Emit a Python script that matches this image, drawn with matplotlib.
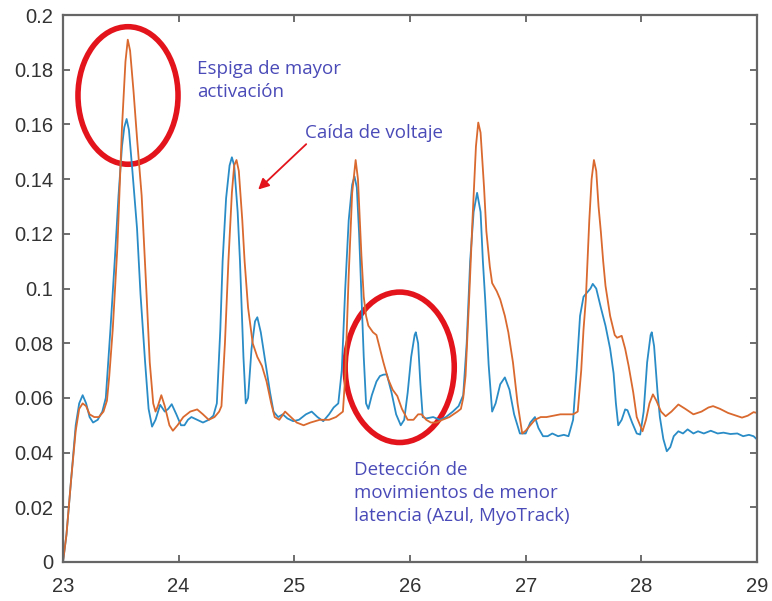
import matplotlib
matplotlib.use('Agg')
import matplotlib.pyplot as plt
from matplotlib.patches import Ellipse

# blue trace (MyoTrack)
blue_x = [23.00, 23.03, 23.07, 23.11, 23.14, 23.17, 23.20, 23.23, 23.26, 23.30,
          23.34, 23.37, 23.41, 23.45, 23.48, 23.51, 23.53, 23.55, 23.57, 23.60,
          23.64, 23.67, 23.71, 23.74, 23.77, 23.80, 23.84, 23.88, 23.91, 23.94,
          23.98, 24.02, 24.05, 24.08, 24.11, 24.16, 24.21, 24.26, 24.30, 24.33,
          24.36, 24.38, 24.41, 24.44, 24.46, 24.48, 24.51, 24.53, 24.56, 24.58,
          24.60, 24.63, 24.66, 24.68, 24.71, 24.75, 24.79, 24.82, 24.86, 24.90,
          24.94, 24.99, 25.04, 25.10, 25.15, 25.20, 25.25, 25.30, 25.34, 25.38,
          25.41, 25.44, 25.47, 25.50, 25.52, 25.54, 25.56, 25.58, 25.60, 25.62,
          25.64, 25.67, 25.71, 25.74, 25.77, 25.80, 25.84, 25.88, 25.92, 25.95,
          25.98, 26.01, 26.04, 26.05, 26.07, 26.09, 26.11, 26.14, 26.20, 26.26,
          26.31, 26.37, 26.42, 26.46, 26.49, 26.52, 26.55, 26.58, 26.61, 26.63,
          26.65, 26.68, 26.71, 26.74, 26.78, 26.82, 26.86, 26.90, 26.95, 27.00,
          27.04, 27.08, 27.11, 27.15, 27.19, 27.23, 27.28, 27.33, 27.37, 27.41,
          27.44, 27.47, 27.50, 27.53, 27.56, 27.58, 27.61, 27.65, 27.69, 27.73,
          27.76, 27.78, 27.80, 27.83, 27.86, 27.88, 27.92, 27.96, 27.99, 28.02,
          28.05, 28.08, 28.09, 28.11, 28.14, 28.16, 28.19, 28.22, 28.25, 28.28,
          28.32, 28.36, 28.40, 28.45, 28.49, 28.54, 28.60, 28.66, 28.71, 28.77,
          28.83, 28.88, 28.93, 28.97, 29.00]
blue_y = [0.000, 0.010, 0.030, 0.050, 0.058, 0.061, 0.058, 0.053, 0.051, 0.052,
          0.055, 0.060, 0.085, 0.112, 0.134, 0.152, 0.159, 0.162, 0.158, 0.143,
          0.122, 0.098, 0.073, 0.056, 0.0495, 0.052, 0.0575, 0.055, 0.056, 0.0577,
          0.054, 0.050, 0.050, 0.052, 0.053, 0.052, 0.051, 0.052, 0.0535, 0.058,
          0.085, 0.110, 0.133, 0.145, 0.148, 0.145, 0.128, 0.110, 0.075, 0.058,
          0.060, 0.078, 0.088, 0.0895, 0.084, 0.073, 0.062, 0.055, 0.053, 0.054,
          0.0525, 0.0515, 0.052, 0.054, 0.055, 0.053, 0.0515, 0.054, 0.0565, 0.058,
          0.070, 0.100, 0.125, 0.138, 0.141, 0.137, 0.120, 0.097, 0.075, 0.058,
          0.056, 0.061, 0.066, 0.068, 0.0685, 0.0686, 0.062, 0.054, 0.050, 0.052,
          0.062, 0.075, 0.083, 0.084, 0.080, 0.065, 0.053, 0.0525, 0.053, 0.052,
          0.053, 0.055, 0.057, 0.061, 0.080, 0.110, 0.128, 0.135, 0.128, 0.110,
          0.096, 0.072, 0.055, 0.058, 0.065, 0.0675, 0.063, 0.054, 0.047, 0.047,
          0.051, 0.053, 0.049, 0.046, 0.046, 0.047, 0.046, 0.0465, 0.046, 0.052,
          0.070, 0.090, 0.097, 0.0985, 0.100, 0.1017, 0.100, 0.093, 0.0864, 0.078,
          0.069, 0.058, 0.050, 0.052, 0.0558, 0.0555, 0.051, 0.047, 0.0466, 0.055,
          0.073, 0.083, 0.084, 0.079, 0.062, 0.053, 0.045, 0.0405, 0.042, 0.046,
          0.0478, 0.047, 0.0485, 0.047, 0.0478, 0.047, 0.048, 0.047, 0.0473, 0.0468,
          0.047, 0.046, 0.0465, 0.046, 0.0448]

# orange trace
orange_x = [23.00, 23.03, 23.07, 23.11, 23.14, 23.17, 23.20, 23.23, 23.27, 23.31,
            23.35, 23.38, 23.40, 23.43, 23.47, 23.51, 23.54, 23.56, 23.58, 23.61,
            23.64, 23.68, 23.72, 23.75, 23.78, 23.80, 23.82, 23.85, 23.88, 23.92,
            23.95, 23.99, 24.04, 24.10, 24.16, 24.21, 24.26, 24.31, 24.35, 24.37,
            24.40, 24.43, 24.46, 24.48, 24.50, 24.52, 24.55, 24.57, 24.60, 24.64,
            24.68, 24.72, 24.76, 24.80, 24.83, 24.87, 24.92, 24.97, 25.02, 25.08,
            25.14, 25.22, 25.30, 25.36, 25.42, 25.44, 25.47, 25.50, 25.53, 25.55,
            25.58, 25.60, 25.62, 25.64, 25.68, 25.71, 25.74, 25.77, 25.81, 25.85,
            25.89, 25.93, 25.98, 26.03, 26.07, 26.10, 26.14, 26.18, 26.23, 26.28,
            26.34, 26.41, 26.44, 26.46, 26.48, 26.51, 26.54, 26.57, 26.59, 26.61,
            26.64, 26.66, 26.69, 26.71, 26.75, 26.78, 26.82, 26.85, 26.89, 26.93,
            26.97, 27.00, 27.04, 27.08, 27.13, 27.18, 27.24, 27.30, 27.36, 27.41,
            27.45, 27.48, 27.50, 27.52, 27.55, 27.57, 27.59, 27.61, 27.63, 27.65,
            27.67, 27.69, 27.73, 27.77, 27.79, 27.83, 27.86, 27.89, 27.93, 27.96,
            28.01, 28.04, 28.07, 28.10, 28.13, 28.17, 28.21, 28.26, 28.32, 28.38,
            28.45, 28.52, 28.58, 28.62, 28.68, 28.75, 28.82, 28.87, 28.92, 28.97,
            29.00]
orange_y = [0.000, 0.010, 0.030, 0.048, 0.056, 0.058, 0.057, 0.054, 0.053, 0.053,
            0.055, 0.059, 0.068, 0.085, 0.115, 0.159, 0.183, 0.191, 0.187, 0.172,
            0.155, 0.134, 0.100, 0.073, 0.058, 0.055, 0.057, 0.061, 0.057, 0.050,
            0.048, 0.050, 0.053, 0.055, 0.0558, 0.054, 0.052, 0.053, 0.055, 0.057,
            0.080, 0.110, 0.135, 0.145, 0.147, 0.143, 0.125, 0.110, 0.093, 0.080,
            0.075, 0.0717, 0.066, 0.058, 0.053, 0.052, 0.055, 0.053, 0.051, 0.050,
            0.051, 0.052, 0.052, 0.053, 0.055, 0.068, 0.105, 0.135, 0.147, 0.140,
            0.112, 0.097, 0.090, 0.0864, 0.084, 0.083, 0.078, 0.073, 0.067, 0.063,
            0.0607, 0.056, 0.052, 0.052, 0.054, 0.054, 0.052, 0.051, 0.051, 0.052,
            0.053, 0.055, 0.056, 0.060, 0.068, 0.095, 0.125, 0.152, 0.1607, 0.157,
            0.137, 0.121, 0.108, 0.102, 0.099, 0.096, 0.090, 0.084, 0.073, 0.058,
            0.047, 0.048, 0.050, 0.052, 0.053, 0.053, 0.0535, 0.054, 0.054, 0.054,
            0.055, 0.070, 0.085, 0.096, 0.125, 0.140, 0.147, 0.143, 0.130, 0.1207,
            0.110, 0.101, 0.090, 0.083, 0.082, 0.0827, 0.078, 0.0717, 0.062, 0.053,
            0.0478, 0.052, 0.058, 0.0613, 0.059, 0.055, 0.0533, 0.055, 0.0576, 0.056,
            0.054, 0.055, 0.0565, 0.057, 0.056, 0.0545, 0.0535, 0.0528, 0.0535, 0.0548,
            0.0545]

x_ticks = [23, 24, 25, 26, 27, 28, 29]
y_ticks = [0, 0.02, 0.04, 0.06, 0.08, 0.1, 0.12, 0.14, 0.16, 0.18, 0.2]
y_labels = ['0', '0.02', '0.04', '0.06', '0.08', '0.1', '0.12', '0.14', '0.16', '0.18', '0.2']

note_color = '#4a4ab8'
red = '#e3141c'

fig = plt.figure(figsize=(7.72, 6.01), dpi=100)
ax = fig.add_axes([0.0816, 0.0649, 0.899, 0.910])

ax.plot(blue_x, blue_y, color='#2a8cc6', lw=1.3)
ax.plot(orange_x, orange_y, color='#d9692e', lw=1.3)

ax.set_xlim(23, 29)
ax.set_ylim(0, 0.2)
ax.set_xticks(x_ticks)
ax.set_xticklabels([str(t) for t in x_ticks])
ax.set_yticks(y_ticks)
ax.set_yticklabels(y_labels)
ax.tick_params(direction='in', top=True, right=True, length=5, width=1.2,
               color='#555555', labelsize=14.5, labelcolor='#333333', pad=7)
ax.tick_params(axis='x', pad=11)
for lab in ax.get_xticklabels() + ax.get_yticklabels():
    lab.set_family('Liberation Sans')
for sp in ax.spines.values():
    sp.set_color('#666666')
    sp.set_linewidth(1.6)

# red circles and arrow
ax.add_patch(Ellipse((23.562, 0.1706), 0.865, 0.0503, fill=False, ec=red, lw=4, clip_on=False))
ax.add_patch(Ellipse((25.911, 0.0712), 0.943, 0.055, fill=False, ec=red, lw=4, clip_on=False))
ax.annotate('', xy=(24.67, 0.1355), xytext=(25.12, 0.1535),
            arrowprops=dict(arrowstyle='-|>', color=red, lw=1.3, mutation_scale=16))

ax.text(24.16, 0.176, 'Espiga de mayor\nactivación', color=note_color, fontsize=13.5,
        family='Open Sans', va='center', ha='left', linespacing=1.35)
ax.text(25.09, 0.157, 'Caída de voltaje', color=note_color, fontsize=13.5,
        family='Open Sans', va='center', ha='left')
ax.text(25.52, 0.0252, 'Detección de\nmovimientos de menor\nlatencia (Azul, MyoTrack)',
        color=note_color, fontsize=13.5, family='Open Sans', va='center', ha='left',
        linespacing=1.35)

fig.savefig('out.png', dpi=100)
